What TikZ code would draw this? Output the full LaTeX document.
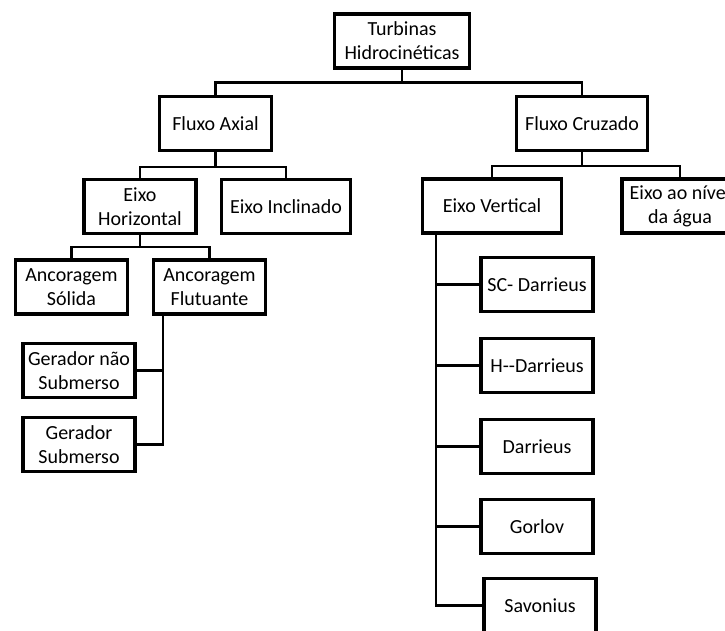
\documentclass[tikz,border=0pt]{standalone}
\usepackage{fontspec}
\setmainfont{Carlito}
\usepackage{tikz}
\usetikzlibrary{
  positioning,
  shadows,
  calc}
\tikzset{
     blk/.style={draw, fill=white, line width=3.2pt, align=center,
        minimum width=112pt, minimum height=54pt, inner sep=1pt,
        font=\fontsize{20}{24}\selectfont,
        drop shadow={opacity=.25, shadow xshift=1.2pt, shadow yshift=-1.2pt}},
     blk wide/.style={blk, minimum width=#1},
     wire/.style={line width=2.2pt}
  }
\begin{document}
\begin{tikzpicture}[x=1pt, y=-1pt]
  \useasboundingbox (0,0) rectangle (725,631);
  \node[blk wide=135pt] (turb) at (402,41) {Turbinas\\Hidrocinéticas};
  \node[blk] (axial) at (215.5,123.5) {Fluxo Axial};
  \node[blk wide=131pt] (cruz) at (582,123.5) {Fluxo Cruzado};
  \node[blk] (horiz) at (140,206.5) {Eixo\\Horizontal};
  \node[blk wide=129pt] (incl) at (286,206.5) {Eixo Inclinado};
  \node[blk wide=139pt] (vert) at (492,206) {Eixo Vertical};
  \node[blk wide=116pt] (nivel) at (680,206) {Eixo ao nível\\da água};
  \node[blk] (solida) at (71.5,287) {Ancoragem\\Sólida};
  \node[blk] (flut) at (209.5,287) {Ancoragem\\Flutuante};
  \node[blk] (gns) at (79,370.5) {Gerador não\\Submerso};
  \node[blk] (gs) at (79,444.5) {Gerador\\Submerso};
  \node[blk] (scd) at (537,284.5) {SC- Darrieus};
  \node[blk] (hd) at (537,365.5) {H-{}-Darrieus};
  \node[blk] (dar) at (537,446.5) {Darrieus};
  \node[blk] (gor) at (537,526.5) {Gorlov};
  \node[blk] (sav) at (540,605.5) {Savonius};
%
\begin{scope}[wire]
  \draw (turb.south) -- ++(0,13) coordinate (b1) -| (axial.north);
  \draw (b1) -| (cruz.north);
  \draw (axial.south) -- ++(0,15) coordinate (b2) -| (horiz.north);
  \draw (b2) -| (incl.north);
  \draw (cruz.south) -- ++(0,14) coordinate (b3) -| (vert.north);
  \draw (b3) -| (nivel.north);
  \draw (horiz.south) -- ++(0,12) coordinate (b4) -| (solida.north);
  \draw (b4) -| (flut.north);
  \draw (flut.south west) ++(11,0) coordinate (f1) |- (gs.east);
  \draw (f1|-gns.east) -- (gns.east);
  \draw (vert.south west) ++(15,0) coordinate (v1) |- (sav.west);
  \foreach \n in {scd,hd,dar,gor}
    \draw (v1|-\n.west) -- (\n.west);
\end{scope}
\end{tikzpicture}
\end{document}
